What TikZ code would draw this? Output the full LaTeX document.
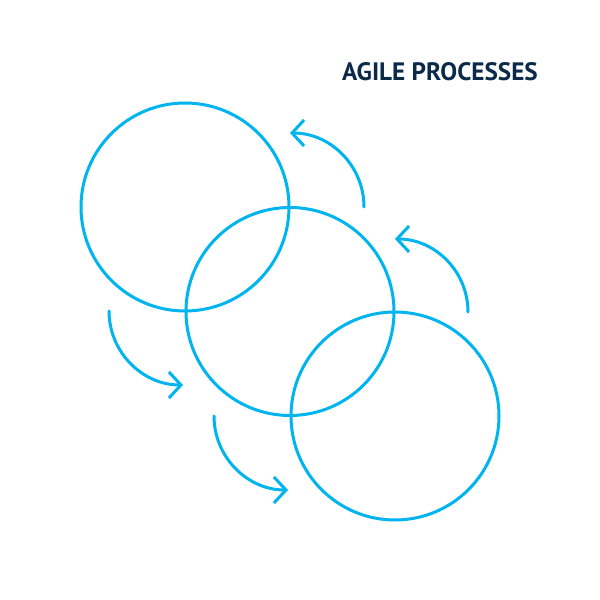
\documentclass[tikz,border=0pt]{standalone}
\usepackage{fontspec}
\setmainfont{PT Sans}
\usetikzlibrary{arrows.meta}
\definecolor{ringblue}{HTML}{00B4F0}
\definecolor{titlenavy}{HTML}{0B2A4A}
\tikzset{
  ring/.style={circle, draw=ringblue, line width=3pt, minimum size=208pt, inner sep=0pt},
  cycarrow/.style={draw=ringblue, line width=3pt, line cap=round, -{Straight Barb[length=12pt, width=26pt, line width=3pt]}},
  title/.style={text=titlenavy, font=\bfseries\fontsize{25.2}{29}\selectfont, anchor=base}
}
\begin{document}
\begin{tikzpicture}[x=1pt, y=1pt]
\useasboundingbox (0,0) rectangle (600,600);
\node[ring] (c1) at (185,393) {};
\node[ring] (c2) at (290,288.5) {};
\node[ring] (c3) at (395,184) {};
\node[title] (t) at (440,519) {AGILE PROCESSES};
\coordinate (a1) at (109,289);
\coordinate (a2) at (214,184);
\coordinate (b1) at (364,393);
\coordinate (b2) at (468,288);
\draw[cycarrow] (a1) arc[start angle=180, end angle=270, radius=74];
\draw[cycarrow] (a2) arc[start angle=180, end angle=270, radius=74];
\draw[cycarrow] (b1) arc[start angle=0, end angle=90, radius=74];
\draw[cycarrow] (b2) arc[start angle=0, end angle=90, radius=73];
\end{tikzpicture}
\end{document}
